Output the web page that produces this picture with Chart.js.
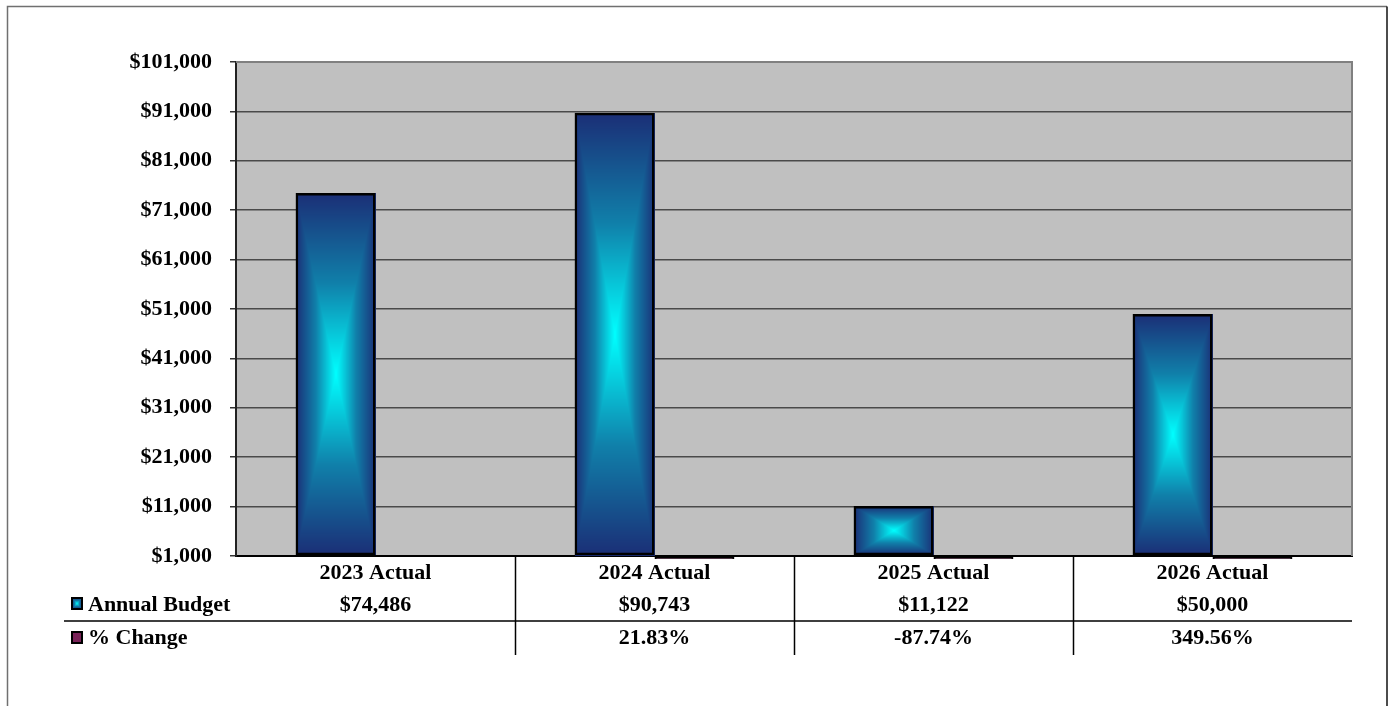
<!DOCTYPE html>
<html>
<head>
<meta charset="utf-8">
<script src="https://cdn.jsdelivr.net/npm/chart.js@4/dist/chart.umd.min.js"></script>
<style>
  body { margin: 0; background: #ffffff; }
  canvas { display: block; }
</style>
</head>
<body>
<canvas id="budget_chart" width="1391" height="706"></canvas>
<script>
// Categories and series
const years = ["2023 Actual", "2024 Actual", "2025 Actual", "2026 Actual"];
const annualBudget = [74486, 90743, 11122, 50000];
const pctChange = [null, 0.2183, -0.8774, 3.4956]; // fraction of previous year

// Y axis range
const yMin = 1000;
const yMax = 101000;
const yStep = 10000;

const FONT = '"Liberation Serif", "Times New Roman", serif';

function money(v) {
  return "$" + Math.round(v).toLocaleString("en-US");
}
function percent(v) {
  return v === null ? "" : (v * 100).toFixed(2) + "%";
}

// colour ramp: 0 = centre of the bar, 1 = edge
const ramp = [
  [0.0, [0, 255, 255]],
  [0.5, [16, 128, 170]],
  [1.0, [27, 46, 118]],
];
function rampColor(t) {
  for (let k = 1; k < ramp.length; k++) {
    if (t <= ramp[k][0]) {
      const a = ramp[k - 1], b = ramp[k];
      const f = (t - a[0]) / (b[0] - a[0]);
      return a[1].map((c, i) => Math.round(c + (b[1][i] - c) * f));
    }
  }
  return ramp[ramp.length - 1][1];
}

// "from centre" rectangle gradient, like the office chart fill
function pyramidImage(w, h) {
  w = Math.max(1, Math.round(w));
  h = Math.max(1, Math.round(h));
  const off = document.createElement("canvas");
  off.width = w;
  off.height = h;
  const octx = off.getContext("2d");
  const img = octx.createImageData(w, h);
  const hw = w / 2, hh = h / 2;
  for (let j = 0; j < h; j++) {
    for (let i = 0; i < w; i++) {
      const dx = Math.abs(i + 0.5 - hw) / hw;
      const dy = Math.abs(j + 0.5 - hh) / hh;
      const c = rampColor(Math.min(1, Math.max(dx, dy)));
      const p = (j * w + i) * 4;
      img.data[p] = c[0];
      img.data[p + 1] = c[1];
      img.data[p + 2] = c[2];
      img.data[p + 3] = 255;
    }
  }
  octx.putImageData(img, 0, 0);
  return off;
}

// grey plot background, drawn under the grid
const plotBackground = {
  id: "plotBackground",
  beforeDraw(chart) {
    const { ctx, chartArea: a } = chart;
    ctx.save();
    ctx.fillStyle = "#ffffff";
    ctx.fillRect(0, 0, chart.width, chart.height);
    ctx.fillStyle = "#c0c0c0";
    ctx.fillRect(a.left, a.top, a.right - a.left, a.bottom - a.top);
    ctx.restore();
  },
};

// gradient fill behind the budget bars
const gradientBars = {
  id: "gradientBars",
  beforeDatasetDraw(chart, args) {
    if (args.index !== 0) return;
    const ctx = chart.ctx;
    args.meta.data.forEach((bar) => {
      const left = bar.x - bar.width / 2;
      const top = Math.min(bar.y, bar.base);
      const h = Math.abs(bar.base - bar.y);
      if (h < 1) return;
      ctx.drawImage(pyramidImage(bar.width, h), Math.round(left), Math.round(top));
    });
  },
};

// data table under the plot plus frame lines
const dataTable = {
  id: "dataTable",
  afterDraw(chart) {
    const { ctx, chartArea: a } = chart;
    const x = chart.scales.x;
    ctx.save();

    // plot frame, top and right
    ctx.strokeStyle = "#808080";
    ctx.lineWidth = 2;
    ctx.beginPath();
    ctx.moveTo(a.left, a.top);
    ctx.lineTo(a.right, a.top);
    ctx.lineTo(a.right, a.bottom);
    ctx.stroke();

    // outer chart frame
    ctx.lineWidth = 1.5;
    ctx.strokeStyle = "#707070";
    ctx.beginPath();
    ctx.moveTo(7.5, 720);
    ctx.lineTo(7.5, 6.5);
    ctx.lineTo(1387, 6.5);
    ctx.stroke();
    ctx.strokeStyle = "#111111";
    ctx.beginPath();
    ctx.moveTo(1387, 6.5);
    ctx.lineTo(1387, 720);
    ctx.stroke();

    // table grid
    ctx.strokeStyle = "#000000";
    ctx.lineWidth = 1.5;
    ctx.beginPath();
    ctx.moveTo(64, 621);
    ctx.lineTo(a.right, 621);
    for (let i = 0; i < years.length - 1; i++) {
      const bx = Math.round((x.getPixelForValue(i) + x.getPixelForValue(i + 1)) / 2) + 0.5;
      ctx.moveTo(bx, a.bottom);
      ctx.lineTo(bx, 655);
    }
    ctx.stroke();

    // legend keys
    const key = pyramidImage(10, 11);
    ctx.drawImage(key, 72, 598);
    ctx.lineWidth = 2;
    ctx.strokeStyle = "#000000";
    ctx.strokeRect(72, 598, 10, 11);
    ctx.fillStyle = "#7a2358";
    ctx.fillRect(72, 632, 10, 11);
    ctx.strokeRect(72, 632, 10, 11);

    // row text
    ctx.fillStyle = "#000000";
    ctx.font = "bold 22px " + FONT;
    ctx.textBaseline = "middle";
    ctx.textAlign = "left";
    ctx.fillText("Annual Budget", 88, 605);
    ctx.fillText("% Change", 88, 638);
    ctx.textAlign = "center";
    years.forEach((_, i) => {
      const cx = x.getPixelForValue(i);
      ctx.fillText(money(annualBudget[i]), cx, 605);
      ctx.fillText(percent(pctChange[i]), cx, 638);
    });
    ctx.restore();
  },
};

const data = {
  labels: years,
  datasets: [
    {
      label: "Annual Budget",
      data: annualBudget,
      base: yMin,
      backgroundColor: "rgba(0,0,0,0)",
      borderColor: "#000000",
      borderWidth: 2.5,
      borderSkipped: false,
    },
    {
      label: "% Change",
      data: pctChange,
      base: yMin,
      backgroundColor: "#7a2358",
      borderColor: "#000000",
      borderWidth: 2,
      borderSkipped: false,
      clip: { left: 0, top: 0, right: 0, bottom: 3 },
    },
  ],
};

const config = {
  type: "bar",
  data: data,
  options: {
    responsive: false,
    animation: false,
    categoryPercentage: 0.573,
    barPercentage: 1,
    layout: {
      padding: { left: 0, top: 62, right: 39, bottom: 0 },
    },
    plugins: {
      legend: { display: false },
      tooltip: { enabled: false },
    },
    scales: {
      x: {
        offset: true,
        grid: { display: false, drawTicks: false },
        border: { display: true, color: "#000000", width: 2 },
        ticks: {
          color: "#000000",
          padding: 4,
          font: { family: FONT, size: 22, weight: "bold" },
        },
        afterFit(axis) {
          axis.height = 150;
        },
      },
      y: {
        min: yMin,
        max: yMax,
        grid: {
          color: "#4a4a4a",
          lineWidth: 1.5,
          tickLength: 6,
          tickColor: "#333333",
        },
        border: { display: true, color: "#222222", width: 2 },
        ticks: {
          stepSize: yStep,
          color: "#000000",
          padding: 18,
          font: { family: FONT, size: 22, weight: "bold" },
          callback: (v) => money(v),
        },
        afterFit(axis) {
          axis.width = 236;
        },
      },
    },
  },
  plugins: [plotBackground, gradientBars, dataTable],
};

const ctx = document.getElementById("budget_chart").getContext("2d");
new Chart(ctx, config);
</script>
</body>
</html>
